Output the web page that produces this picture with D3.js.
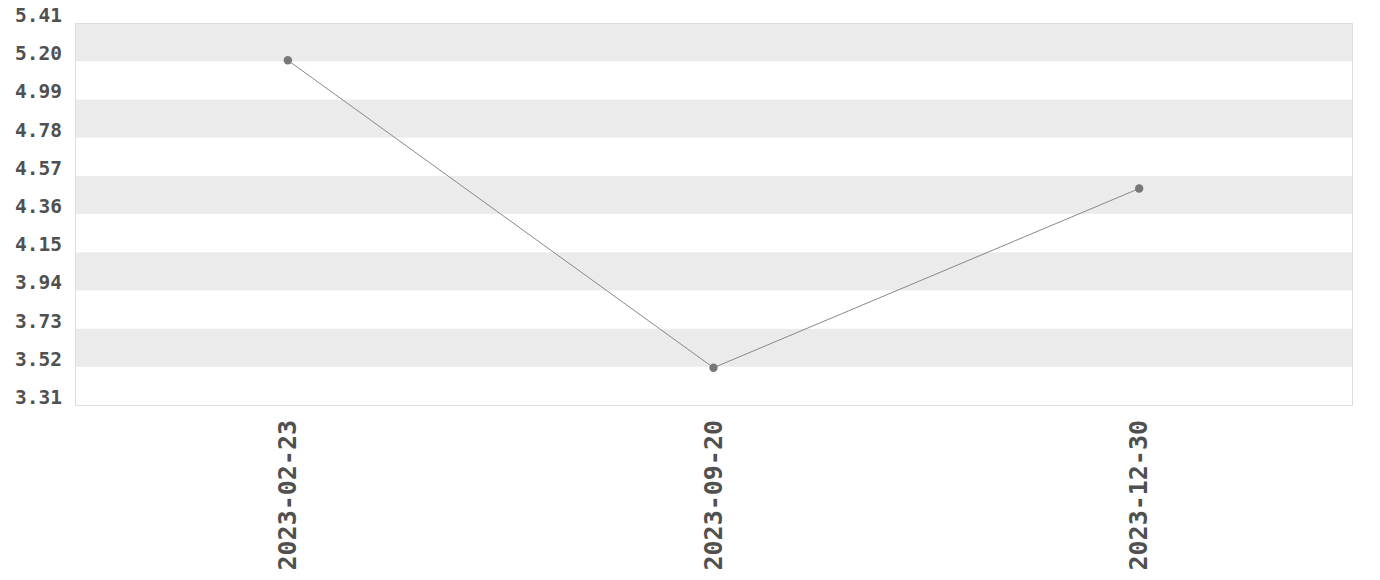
<!DOCTYPE html>
<html><head><meta charset="utf-8">
<script src="https://cdn.jsdelivr.net/npm/d3@7"></script>
<style>body{margin:0;background:#fff}svg{display:block}</style>
</head><body><svg id="c" width="1380" height="580"></svg>
<script>
const dates = ["2023-02-23", "2023-09-20", "2023-12-30"];
const values = [5.205, 3.515, 4.50];
const yTicks = [3.31, 3.52, 3.73, 3.94, 4.15, 4.36, 4.57, 4.78, 4.99, 5.20, 5.41];

const svg = d3.select("#c");
const m = {l: 75, r: 28, t: 23, b: 175};
const W = 1380, H = 580;
const x = d3.scalePoint().domain(dates).range([m.l, W - m.r]).padding(0.5);
const y = d3.scaleLinear().domain([yTicks[0], yTicks[yTicks.length-1]]).range([H - m.b, m.t]);

// stripes
const bands = d3.range(yTicks.length - 1).map(i => [yTicks[i], yTicks[i+1], i]);
svg.append("g").selectAll("rect").data(bands).join("rect")
  .attr("x", m.l).attr("width", W - m.r - m.l)
  .attr("y", d => y(d[1])).attr("height", d => y(d[0]) - y(d[1]))
  .attr("fill", d => (yTicks.length - 2 - d[2]) % 2 === 0 ? "#ebebeb" : "#ffffff");

svg.append("rect").attr("x", m.l + 0.5).attr("y", m.t + 0.5)
  .attr("width", W - m.r - m.l).attr("height", H - m.b - m.t)
  .attr("fill", "none").attr("stroke", "#dddddd");

const font = "'DejaVu Sans Mono', monospace";
// y labels
svg.append("g").selectAll("text").data(yTicks).join("text")
  .attr("x", 62).attr("y", d => y(d) - 1)
  .attr("text-anchor", "end")
  .attr("font-family", font).attr("font-weight", "bold").attr("font-size", 19.5)
  .attr("fill", "#505050").text(d => d.toFixed(2));

// x labels
svg.append("g").selectAll("text").data(dates).join("text")
  .attr("transform", d => `translate(${x(d) + 8},${H - m.b + 15}) rotate(-90)`)
  .attr("text-anchor", "end")
  .attr("font-family", font).attr("font-weight", "bold").attr("font-size", 25)
  .attr("fill", "#505050").text(d => d);

const data = dates.map((d, i) => ({d, v: values[i]}));
svg.append("path").datum(data)
  .attr("d", d3.line().x(p => x(p.d)).y(p => y(p.v)))
  .attr("fill", "none").attr("stroke", "#888").attr("stroke-width", 1);
svg.append("g").selectAll("circle").data(data).join("circle")
  .attr("cx", p => x(p.d)).attr("cy", p => y(p.v)).attr("r", 4.2)
  .attr("fill", "#777");
</script></body></html>
